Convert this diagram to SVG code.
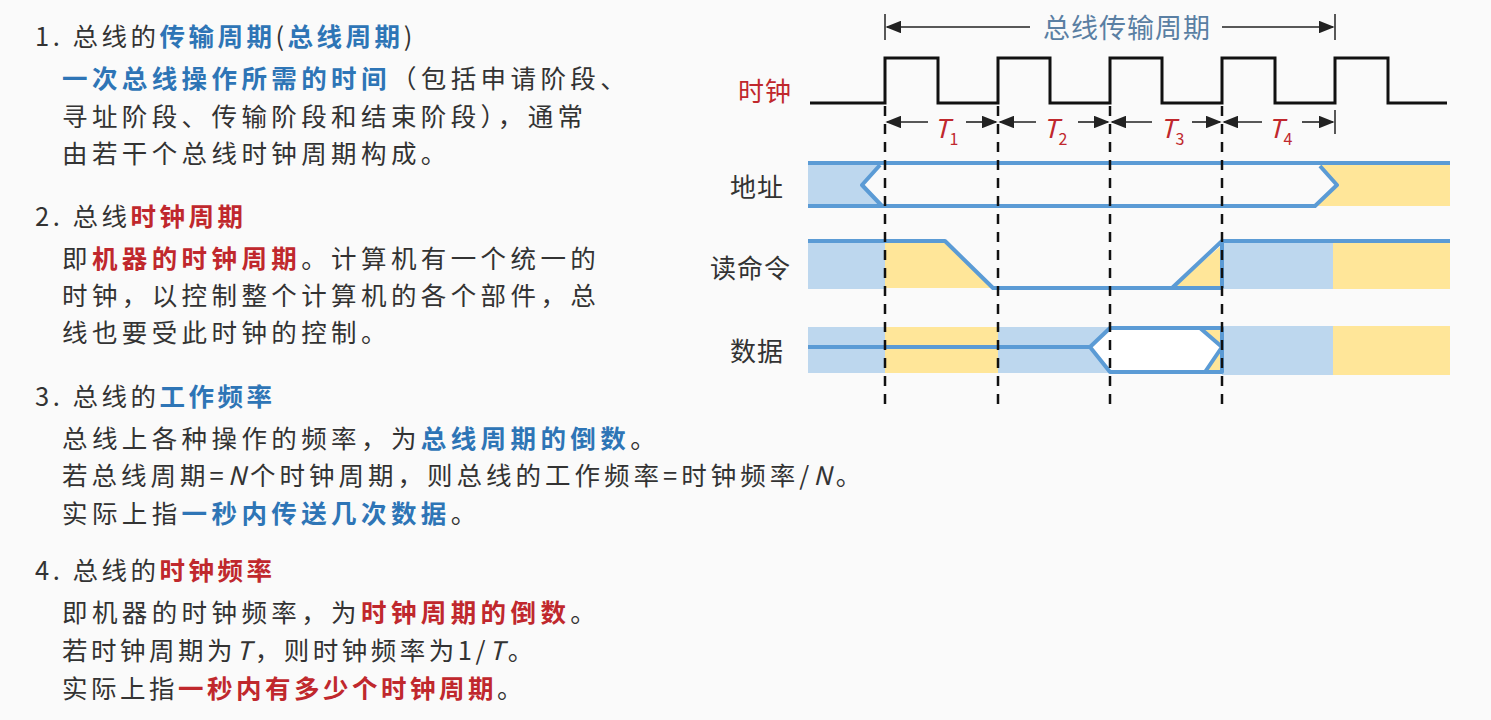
<svg xmlns="http://www.w3.org/2000/svg" width="1491" height="720" viewBox="0 0 1491 720">
<defs>
<style>
text{font-family:"Noto Sans CJK SC","Noto Sans",sans-serif;font-size:25.5px;letter-spacing:4.4px;fill:#333}
.b{fill:#2E75B6;font-weight:bold}
.r{fill:#C0282D;font-weight:bold}
.lb{fill:#333;font-size:26px;letter-spacing:1px}
.t{fill:#C0282D;font-style:italic;font-size:26px;letter-spacing:0}
.w{stroke:#5B9BD5;stroke-width:4;fill:none;stroke-linejoin:round}
.dash{stroke:#111;stroke-width:2.5;stroke-dasharray:10,8}
.ar{stroke:#222;stroke-width:1.6;fill:none}
</style>
<marker id="ah" markerWidth="10" markerHeight="8" refX="9" refY="4" orient="auto-start-reverse"><path d="M0,0 L10,4 L0,8 z" fill="#222"/></marker>
</defs>
<rect width="1491" height="720" fill="#fafafa"/>
<g id="text">
<text x="35" y="46" style="letter-spacing:3.5px">1. 总线的<tspan class="b">传输周期</tspan>(<tspan class="b">总线周期</tspan>)</text>
<text x="62" y="88"><tspan class="b">一次总线操作所需的时间</tspan>（包括申请阶段、</text>
<text x="62" y="126">寻址阶段、传输阶段和结束阶段），通常</text>
<text x="62" y="163">由若干个总线时钟周期构成。</text>
<text x="35" y="226" style="letter-spacing:3.5px">2. 总线<tspan class="r">时钟周期</tspan></text>
<text x="62" y="268">即<tspan class="r">机器的时钟周期</tspan>。计算机有一个统一的</text>
<text x="62" y="305">时钟，以控制整个计算机的各个部件，总</text>
<text x="62" y="342">线也要受此时钟的控制。</text>
<text x="35" y="406" style="letter-spacing:3.5px">3. 总线的<tspan class="b">工作频率</tspan></text>
<text x="62" y="448">总线上各种操作的频率，为<tspan class="b">总线周期的倒数</tspan>。</text>
<text x="62" y="485" style="letter-spacing:4px">若总线周期=<tspan font-style="italic">N</tspan>个时钟周期，则总线的工作频率=时钟频率/<tspan font-style="italic">N</tspan>。</text>
<text x="62" y="523">实际上指<tspan class="b">一秒内传送几次数据</tspan>。</text>
<text x="35" y="580" style="letter-spacing:3.5px">4. 总线的<tspan class="r">时钟频率</tspan></text>
<text x="62" y="622">即机器的时钟频率，为<tspan class="r">时钟周期的倒数</tspan>。</text>
<text x="62" y="660" style="letter-spacing:3.5px">若时钟周期为<tspan font-style="italic">T</tspan>，则时钟频率为1/<tspan font-style="italic">T</tspan>。</text>
<text x="62" y="698" style="letter-spacing:3.5px">实际上指<tspan class="r">一秒内有多少个时钟周期</tspan>。</text>
</g>
<g id="labels">
<text x="738" y="101" class="lb" style="fill:#C0282D">时钟</text>
<text x="730" y="197" class="lb">地址</text>
<text x="710" y="278" class="lb">读命令</text>
<text x="730" y="361" class="lb">数据</text>
</g>
<g id="period">
<line x1="885" y1="14" x2="885" y2="40" stroke="#222" stroke-width="1.5"/>
<line x1="1335" y1="14" x2="1335" y2="40" stroke="#222" stroke-width="1.5"/>
<line class="ar" x1="1030" y1="27" x2="887" y2="27" marker-end="url(#ah)"/>
<line class="ar" x1="1222" y1="27" x2="1333" y2="27" marker-end="url(#ah)"/>
<text x="1127" y="38" text-anchor="middle" style="fill:#5a7fa3;font-size:27px;letter-spacing:1px">总线传输周期</text>
</g>
<g id="clock">
<path d="M810,103 H885 V58 H938 V103 H998 V58 H1050 V103 H1110 V58 H1162 V103 H1222 V58 H1275 V103 H1335 V58 H1388 V103 H1447" fill="none" stroke="#111" stroke-width="3"/>
</g>
<g id="tlabels">
<g class="ar">
<line x1="928" y1="122" x2="887" y2="122" marker-end="url(#ah)"/><line x1="966" y1="122" x2="996" y2="122" marker-end="url(#ah)"/>
<line x1="1036" y1="122" x2="1000" y2="122" marker-end="url(#ah)"/><line x1="1078" y1="122" x2="1108" y2="122" marker-end="url(#ah)"/>
<line x1="1152" y1="122" x2="1112" y2="122" marker-end="url(#ah)"/><line x1="1192" y1="122" x2="1220" y2="122" marker-end="url(#ah)"/>
<line x1="1262" y1="122" x2="1224" y2="122" marker-end="url(#ah)"/><line x1="1302" y1="122" x2="1333" y2="122" marker-end="url(#ah)"/>
</g>
<line x1="1335" y1="110" x2="1335" y2="134" stroke="#222" stroke-width="1.5"/>
<text x="934" y="138" class="t">T<tspan font-size="16" font-style="normal" dy="7">1</tspan></text>
<text x="1043" y="138" class="t">T<tspan font-size="16" font-style="normal" dy="7">2</tspan></text>
<text x="1160" y="138" class="t">T<tspan font-size="16" font-style="normal" dy="7">3</tspan></text>
<text x="1268" y="138" class="t">T<tspan font-size="16" font-style="normal" dy="7">4</tspan></text>
</g>
<g id="addr">
<path d="M808,163 H880 L862,185 L882,206 H808 Z" fill="#BDD7EE"/>
<path d="M1318,163 H1450 V206 H1315 L1337,185 Z" fill="#FFE699"/>
<path class="w" d="M808,163 H1450 M808,206 H1315 L1337,185 L1320,166 M880,165 L862,185 L882,206"/>
</g>
<g id="read">
<rect x="808" y="241" width="77" height="48" fill="#BDD7EE"/>
<path d="M885,241 H945 L993,288 H885 Z" fill="#FFE699"/>
<path d="M1172,288 L1222,245 V288 Z" fill="#FFE699"/>
<rect x="1222" y="241" width="111" height="48" fill="#BDD7EE"/>
<rect x="1333" y="241" width="117" height="48" fill="#FFE699"/>
<path class="w" d="M808,241 H945 L993,288 H1222 M1172,288 L1222,241 H1450 M1222,241 V288"/>
</g>
<g id="data">
<rect x="808" y="327" width="414" height="46" fill="#BDD7EE"/>
<rect x="885" y="327" width="113" height="46" fill="#FFE699"/>
<path d="M1110,328 H1200 L1222,347 L1205,372 H1110 L1090,347 Z" fill="#fff"/>
<path d="M1200,328 H1220 V347 Z M1205,372 H1220 V350 Z" fill="#FFE699"/>
<rect x="1222" y="326" width="111" height="49" fill="#BDD7EE"/>
<rect x="1333" y="326" width="117" height="49" fill="#FFE699"/>
<path class="w" d="M808,347 H1090 L1110,328 H1222 V372 H1110 L1090,347 M1200,328 L1222,347 L1205,372"/>
</g>
<g id="connectors">
<line class="dash" x1="885" y1="106" x2="885" y2="410"/>
<line class="dash" x1="998" y1="106" x2="998" y2="410"/>
<line class="dash" x1="1110" y1="106" x2="1110" y2="410"/>
<line class="dash" x1="1222" y1="106" x2="1222" y2="410"/>
</g>
</svg>
